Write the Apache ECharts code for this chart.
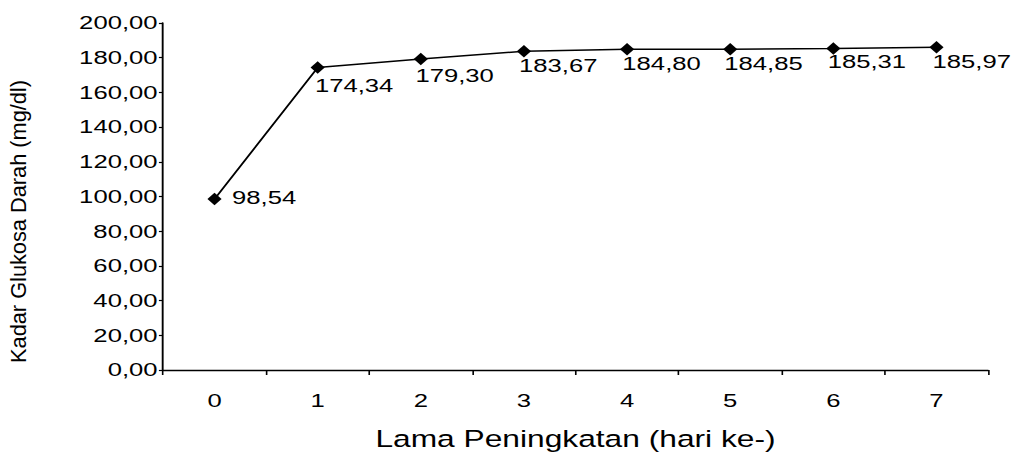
<!DOCTYPE html>
<html>
<head>
<meta charset="utf-8">
<script src="https://cdn.jsdelivr.net/npm/echarts@6/dist/echarts.min.js"></script>
<style>
  html, body { margin: 0; padding: 0; background: #fff; overflow: hidden; }
  /* The chart is laid out narrow and widened horizontally, giving the wide lettering */
  #chart { width: 749px; height: 454px; transform: scaleX(1.35); transform-origin: 0 0; }
</style>
</head>
<body>
<div id="chart"></div>
<script>
// Day of measurement
const days = ['0', '1', '2', '3', '4', '5', '6', '7'];
// Mean blood glucose level (mg/dl)
const glucose = [98.54, 174.34, 179.30, 183.67, 184.80, 184.85, 185.31, 185.97];
// Value axis range
const yMin = 0;
const yMax = 200;
const yStep = 20;

// Where each value label sits relative to its marker
const labelNudge = [[13, -1], [-2, 18.5], [-4, 17], [-3.6, 14.4], [-3.5, 14.4], [-4.4, 14.5], [-4.2, 13.3], [-2.9, 14.4]];

const FONT = '"Liberation Sans", Arial, sans-serif';
const fmt = v => v.toFixed(2).replace('.', ',');

const chart = echarts.init(document.getElementById('chart'), null, { renderer: 'svg' });

chart.setOption({
  backgroundColor: '#fff',
  animation: false,
  grid: { left: 120.7, right: 17.1, top: 23, bottom: 84, containLabel: false, outerBoundsMode: 'none' },
  xAxis: {
    type: 'category',
    data: days,
    boundaryGap: true,
    name: 'Lama Peningkatan (hari ke-)',
    nameLocation: 'middle',
    nameGap: 57,
    nameTextStyle: { fontFamily: FONT, fontSize: 23.5, color: '#000' },
    axisLine: { lineStyle: { color: '#000', width: 1.3 } },
    axisTick: { show: true, length: 5, lineStyle: { color: '#000', width: 1.2 } },
    axisLabel: { fontFamily: FONT, fontSize: 19, color: '#000', margin: 21 },
    splitLine: { show: false }
  },
  yAxis: {
    type: 'value',
    min: yMin,
    max: yMax,
    interval: yStep,
    axisLine: { show: true, lineStyle: { color: '#000', width: 1.4 } },
    axisTick: { show: true, length: 3, lineStyle: { color: '#000', width: 1.2 } },
    axisLabel: { fontFamily: FONT, fontSize: 19, color: '#000', margin: 4, formatter: fmt },
    splitLine: { show: false }
  },
  graphic: [{
    type: 'text',
    x: 13.5,
    y: 221.5,
    rotation: Math.PI / 2,
    scaleX: 1.36,
    style: {
      text: 'Kadar Glukosa Darah (mg/dl)',
      fontFamily: FONT,
      fontSize: 16,
      fill: '#000',
      align: 'center',
      verticalAlign: 'middle'
    }
  }],
  series: [{
    type: 'line',
    data: glucose.map((v, i) => ({
      value: v,
      label: { offset: labelNudge[i] }
    })),
    symbol: 'diamond',
    symbolSize: [10.5, 12.5],
    itemStyle: { color: '#000' },
    lineStyle: { color: '#000', width: 1.5 },
    label: {
      show: true,
      position: 'inside',
      align: 'left',
      verticalAlign: 'middle',
      fontFamily: FONT,
      fontSize: 19,
      color: '#000',
      formatter: p => fmt(p.value)
    }
  }]
});
</script>
</body>
</html>
